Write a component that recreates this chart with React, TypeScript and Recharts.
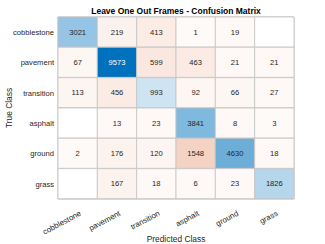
import React from 'react';
import { BarChart, Bar, XAxis, YAxis, Cell, LabelList, Label, ReferenceArea } from 'recharts';

const classes = ['cobblestone', 'pavement', 'transition', 'asphalt', 'ground', 'grass'];
const rowCobblestone = [3021, 219, 413, 1, 19, 0];
const rowPavement = [67, 9573, 599, 463, 21, 21];
const rowTransition = [113, 456, 993, 92, 66, 27];
const rowAsphalt = [0, 13, 23, 3841, 8, 3];
const rowGround = [2, 176, 120, 1548, 4630, 18];
const rowGrass = [0, 167, 18, 6, 23, 1826];
const matrix = [rowCobblestone, rowPavement, rowTransition, rowAsphalt, rowGround, rowGrass];
const xTicks = [0.5, 1.5, 2.5, 3.5, 4.5, 5.5];

const maxVal = Math.max(...matrix.flat());

const data = classes.map((name, i) => {
  const row: any = { name };
  matrix[i].forEach((v, j) => {
    row[`c${j}`] = 1;
    row[`v${j}`] = v;
  });
  return row;
});

function mix(base: number[], t: number) {
  const c = base.map((b) => Math.round(255 - t * (255 - b)));
  return `rgb(${c[0]},${c[1]},${c[2]})`;
}

function cellColor(i: number, j: number) {
  const v = matrix[i][j];
  if (v === 0) return '#ffffff';
  let t = Math.pow(v / maxVal, 0.8);
  t = 0.03 + 0.97 * t;
  return i === j ? mix([0, 114, 189], t) : mix([217, 83, 25], t);
}

const FONT = '"Liberation Sans", Arial, sans-serif';

const XTick = (props: any) => {
  const { x, y, payload } = props;
  const idx = Math.round(payload.value - 0.5);
  const ax = x + 4;
  const ay = y + 8;
  return (
    <text x={ax} y={ay} textAnchor="end" transform={`rotate(-28, ${ax}, ${ay})`} fontSize={7.8} fill="#262626" fontFamily={FONT}>
      {classes[idx]}
    </text>
  );
};

const makeLabel = (j: number) => (props: any) => {
  const { x, y, width, height, value } = props;
  if (!value) return null;
  const dark = value / maxVal > 0.55;
  return (
    <text x={x + width / 2} y={y + height / 2} dy={2.7} textAnchor="middle" fontSize={7.6} fill={dark ? '#ffffff' : '#262626'} fontFamily={FONT}>
      {value}
    </text>
  );
};

export default function App() {
  return (
    <div style={{ position: 'absolute', left: 0, top: 0, width: 325, height: 244, background: '#fff' }}>
      <div style={{ position: 'absolute', left: 58, top: 6, width: 236, textAlign: 'center', fontFamily: FONT, fontWeight: 'bold', fontSize: 8.5, color: '#000', lineHeight: '10px', whiteSpace: 'nowrap' }}>
        Leave One Out Frames - Confusion Matrix
      </div>
      <BarChart
        width={325}
        height={244}
        data={data}
        layout="vertical"
        barCategoryGap={0}
        margin={{ top: 17, right: 31, bottom: 0, left: 0 }}
      >
        <XAxis
          type="number"
          domain={[0, 6]}
          ticks={xTicks}
          tick={<XTick />}
          tickLine={false}
          axisLine={false}
          height={45}
          interval={0}
        >
          <Label value="Predicted Class" position="insideBottom" offset={2} fontSize={8.4} fill="#262626" fontFamily={FONT} />
        </XAxis>
        <YAxis
          type="category"
          dataKey="name"
          width={58}
          tickLine={false}
          axisLine={false}
          tickSize={2}
          tickMargin={2}
          tick={{ fontSize: 7.6, fill: '#262626', fontFamily: FONT }}
          interval={0}
        >
          <Label value="True Class" angle={-90} position="insideLeft" offset={9} fontSize={8.4} fill="#262626" fontFamily={FONT} style={{ textAnchor: 'middle' }} />
        </YAxis>
        {classes.map((_, j) => (
          <Bar key={j} dataKey={`c${j}`} stackId="m" isAnimationActive={false}>
            {classes.map((__, i) => (
              <Cell key={i} fill={cellColor(i, j)} stroke="#c4c4c4" strokeWidth={0.8} />
            ))}
            <LabelList dataKey={`v${j}`} content={makeLabel(j)} />
          </Bar>
        ))}
        <ReferenceArea x1={0} x2={6} y1="cobblestone" y2="grass" fill="none" stroke="#a6a6a6" strokeWidth={0.8} ifOverflow="visible" />
      </BarChart>
    </div>
  );
}
